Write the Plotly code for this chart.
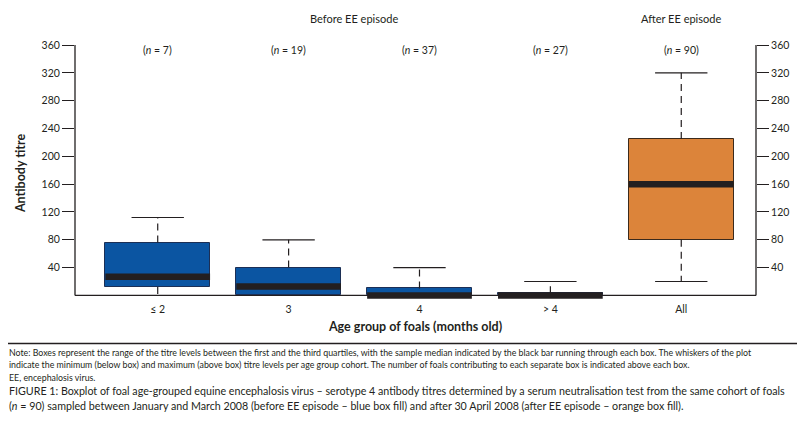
import plotly.graph_objects as go

# ---- data ----
categories = ["≤ 2", "3", "4", "> 4", "All"]
n_counts = [7, 19, 37, 27, 90]
minimum = [0, 0, 0, 0, 20]
q1 = [12, 0, 0, 0, 80]
median = [27, 13, 0, 0, 160]
q3 = [76, 40, 10, 3, 225]
maximum = [112, 80, 40, 20, 320]
groups = ["Before EE episode", "Before EE episode", "Before EE episode", "Before EE episode", "After EE episode"]
y_ticks = [40, 80, 120, 160, 200, 240, 280, 320, 360]

BLUE = "#0b55a2"
ORANGE = "#dc843a"
INK = "#231f20"
FONT = "Lato, Open Sans, sans-serif"

OFF = 8  # page body margin of the browser
W, H = 805 - OFF, 421 - OFF
L, R, T = 73 - OFF, 756 - OFF, 45 - OFF
Y0_PX = 295 - OFF
YMIN, YMAX = -8, 360
pxu = (Y0_PX - T) / YMAX
BOT = Y0_PX + (-YMIN) * pxu
B = H - BOT

xs = list(range(len(categories)))
box_w = 0.8
cap_w = 0.4

fill_colors = [BLUE if g.startswith("Before") else ORANGE for g in groups]
edge_colors = ["#1c2f55" if g.startswith("Before") else "#3b2a1c" for g in groups]


def px_x(p):
    return (p - OFF - L) / (R - L)


def px_y(p):
    return (BOT - (p - OFF)) / (BOT - T)


fig = go.Figure()

# boxes (Q1..Q3)
fig.add_trace(go.Bar(
    x=xs, y=[b - a for a, b in zip(q1, q3)], base=q1, width=box_w,
    marker=dict(color=fill_colors, line=dict(color=edge_colors, width=1)),
    hoverinfo="skip", showlegend=False))

# whiskers (dashed)
wx, wy = [], []
for i in xs:
    if maximum[i] > q3[i]:
        wx += [i, i, None]; wy += [q3[i], maximum[i], None]
    if q1[i] > minimum[i]:
        wx += [i, i, None]; wy += [q1[i], minimum[i], None]
fig.add_trace(go.Scatter(x=wx, y=wy, mode="lines",
                         line=dict(color=INK, width=1.2, dash="7px,5px"),
                         hoverinfo="skip", showlegend=False))

# caps
cx, cy = [], []
for i in xs:
    cx += [i - cap_w / 2, i + cap_w / 2, None]; cy += [maximum[i], maximum[i], None]
    if q1[i] > minimum[i] and minimum[i] > 0:
        cx += [i - cap_w / 2, i + cap_w / 2, None]; cy += [minimum[i], minimum[i], None]
fig.add_trace(go.Scatter(x=cx, y=cy, mode="lines", line=dict(color=INK, width=1.2),
                         hoverinfo="skip", showlegend=False))

# median bars
mx, my = [], []
for i in xs:
    mx += [i - box_w / 2, i + box_w / 2, None]; my += [median[i], median[i], None]
fig.add_trace(go.Scatter(x=mx, y=my, mode="lines", line=dict(color=INK, width=6.5),
                         hoverinfo="skip", showlegend=False))

# dummy for right axis
fig.add_trace(go.Scatter(x=[None], y=[None], yaxis="y2", showlegend=False))

# n labels
for i in xs:
    fig.add_annotation(x=i, y=px_y(50), xref="x", yref="paper", yanchor="middle",
                       showarrow=False, text=f"(<i>n</i> = {n_counts[i]})",
                       font=dict(family=FONT, size=10.5, color=INK))

# group labels
seen = {}
for i, g in enumerate(groups):
    seen.setdefault(g, []).append(i)
for g, idx in seen.items():
    fig.add_annotation(x=sum(idx) / len(idx), y=px_y(19), xref="x", yref="paper",
                       yanchor="middle", showarrow=False, text=g,
                       font=dict(family=FONT, size=11, color=INK))

# axis lines
fig.add_shape(type="line", xref="paper", yref="y", x0=0, x1=0, y0=0, y1=YMAX,
              line=dict(color=INK, width=1.3))
fig.add_shape(type="line", xref="paper", yref="y", x0=1, x1=1, y0=0, y1=YMAX,
              line=dict(color=INK, width=1.3))
fig.add_shape(type="line", xref="paper", yref="y", x0=0, x1=1, y0=0, y1=0,
              line=dict(color=INK, width=1.3), layer="below")

# outer frame
fig.add_shape(type="rect", xref="paper", yref="paper",
              x0=px_x(5), x1=px_x(798), y0=px_y(343), y1=px_y(3),
              line=dict(color=INK, width=1.3))

# captions
captions = [
    (352, 8.8, "Note: Boxes represent the range of the titre levels between the first and the third quartiles, with the sample median indicated by the black bar running through each box. The whiskers of the plot"),
    (364, 8.8, "indicate the minimum (below box) and maximum (above box) titre levels per age group cohort. The number of foals contributing to each separate box is indicated above each box."),
    (377, 8.8, "EE, encephalosis virus."),
    (390, 10.7, "FIGURE 1: Boxplot of foal age-grouped equine encephalosis virus – serotype 4 antibody titres determined by a serum neutralisation test from the same cohort of foals"),
    (405, 10.7, "(<i>n</i> = 90) sampled between January and March 2008 (before EE episode – blue box fill) and after 30 April 2008 (after EE episode – orange box fill)."),
]
for py, fs, txt in captions:
    fig.add_annotation(x=px_x(5), y=px_y(py), xref="paper", yref="paper",
                       xanchor="left", yanchor="middle", showarrow=False, text=txt,
                       font=dict(family=FONT, size=fs, color=INK))

fig.update_layout(
    width=W, height=H,
    margin=dict(l=L, r=W - R, t=T, b=B, pad=0),
    paper_bgcolor="white", plot_bgcolor="white",
    bargap=0,
    font=dict(family=FONT, color=INK),
    xaxis=dict(range=[-0.632, 4.571], tickvals=xs, ticktext=categories,
               showgrid=False, zeroline=False, showline=False, ticks="",
               tickfont=dict(size=10.5, family=FONT, color=INK),
               title=dict(text="<b>Age group of foals (months old)</b>",
                          font=dict(size=12.5, family=FONT, color=INK), standoff=8)),
    yaxis=dict(range=[YMIN, YMAX], tickvals=y_ticks, showgrid=False, zeroline=False,
               showline=False, ticks="outside", ticklen=12, tickwidth=1.3, tickcolor=INK,
               tickfont=dict(size=10.5, family=FONT, color=INK),
               title=dict(text="<b>Antibody titre</b>", font=dict(size=12.5, family=FONT, color=INK),
                          standoff=13)),
    yaxis2=dict(range=[YMIN, YMAX], tickvals=y_ticks, overlaying="y", side="right",
                showgrid=False, zeroline=False, showline=False, ticks="outside",
                ticklen=12, tickwidth=1.3, tickcolor=INK,
                tickfont=dict(size=10.5, family=FONT, color=INK)),
)

fig.write_html("out.html")
